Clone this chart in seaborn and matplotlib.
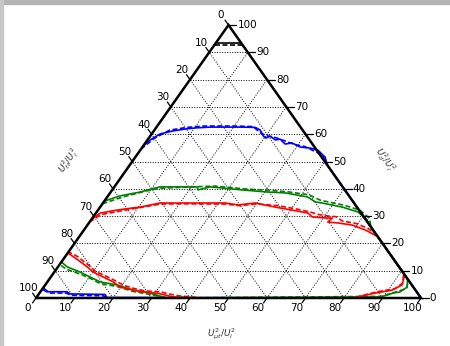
import numpy as np
import pandas as pd
import matplotlib
matplotlib.use("Agg")
import matplotlib.pyplot as plt
import seaborn as sns
from matplotlib.patches import Rectangle

sns.set_style("white")
plt.rcParams['font.family'] = ['DejaVu Sans']
plt.rcParams['text.color'] = 'black'

# ---- data: ternary coordinates (b = U_mu_t^2/U_i^2, r = U_d^2/U_i^2), in % ----
blue_b = [0, 0.7, 2.2, 5.0, 7.8, 10.2, 13.9, 21.7, 25.7, 27.5, 29.4, 30.4, 31.2, 33.2, 34.3,
          36.5, 38.1, 41.0, 43.8, 46.1, 49.3, 51.3, 57.5, 100, 18.3, 17.3, 8.1, 6.9, 2.0, 0]
blue_r = [55.7, 57.9, 60.1, 61.2, 61.9, 62.3, 62.6, 62.6, 62.5, 61.5, 59.3, 58.6, 59.3, 57.9, 58.2,
          56.4, 56.8, 55.3, 54.9, 54.2, 51.6, 48.7, 42.5, 0, 0.2, 1.3, 1.5, 2.3, 2.3, 3.7]
blue_b_d = [0, 1.5, 4, 8, 12, 20, 25, 28, 30, 33, 36, 39, 42, 45, 48, 52, 58, 100,
            19, 17, 8.5, 7, 2.5, 0]
blue_r_d = [54.5, 58.5, 61.5, 62.5, 63, 63, 62.8, 60.5, 59.5, 58.7, 57.5, 56.2, 55.5, 54.0, 52.5, 48, 42, 0,
            0, 0.8, 1.0, 1.8, 1.8, 3.2]

green_b = [0, 3.1, 7.6, 10.8, 11.9, 21.5, 22.3, 24.9, 33.7, 40.9, 45.5, 52.1, 54.9, 56.9, 62.9,
           67.9, 71.7, 72.9, 93.0, 94.4, 93.4, 91.8, 90.7, 89.2, 33.8, 28.7, 23.8, 18.6, 13.7,
           10.2, 6.7, 2.4, 0]
green_r = [35.5, 37.4, 38.8, 40.3, 40.7, 40.7, 39.6, 40.7, 39.6, 38.8, 38.5, 37.0, 35.2, 34.8, 33.3,
           31.5, 28.6, 27.1, 7.0, 4.0, 2.2, 1.8, 1.1, 0.4, 0, 1.8, 2.9, 4.8, 5.9,
           7.7, 9.5, 11.4, 13.2]
green_b_d = [0, 4, 9, 12, 22, 26, 34, 41, 46, 52, 56, 63, 68, 72, 74, 93.5, 94.5, 93, 91, 89.5,
             34.5, 29, 24, 19, 14, 10.5, 7, 2.5, 0]
green_r_d = [34.5, 37.0, 39.2, 40.2, 40.8, 41.0, 40.0, 39.4, 38.9, 37.8, 35.8, 34.0, 32.2, 29.2, 26, 6.5,
             3.5, 2.6, 1.5, 0.6, 0, 1.3, 2.4, 4.2, 5.3, 7.2, 8.8, 10.6, 12.3]

red_b = [0, 1.1, 4.9, 8.7, 10.4, 14.8, 20.8, 31.7, 35.5, 39.5, 45.5, 50.4, 55.1, 56.9, 60.5,
         62.3, 61.9, 64.7, 68.8, 73.1, 77.5, 91.5, 92.7, 91.1, 87.2, 83.4, 82.0, 42.6, 35.4,
         30.5, 26.7, 23.8, 19.8, 17.1, 13.6, 10.1, 7.6, 5.6, 2.8, 0]
red_r = [28.6, 31.1, 32.2, 33.0, 33.3, 34.8, 34.8, 34.8, 34.1, 34.8, 33.3, 32.2, 31.1, 29.7, 29.3,
         29.3, 27.8, 27.5, 26.7, 24.9, 22.5, 8.5, 4.8, 2.9, 1.8, 0.4, 0, 0, 0.4,
         1.8, 2.2, 2.9, 4.0, 5.9, 7.7, 9.5, 11.4, 12.8, 14.7, 16.5]
red_b_d = [0, 1.5, 5, 9, 15, 21, 32, 36, 40, 46, 51, 55.5, 58, 61, 63, 65.5, 69.5, 73.5, 77,
           91, 92.5, 91.5, 87.5, 84, 82.5, 43, 36, 31, 27, 24, 20.5, 17.5, 14, 10.5, 8, 6, 3.2, 0]
red_r_d = [27.8, 30.5, 31.6, 32.7, 34.4, 34.5, 34.4, 33.8, 34.5, 33.8, 32.7, 31.5, 30.6, 30.0, 29.8,
           28.2, 27.3, 25.5, 23, 9, 5.5, 3.4, 2.3, 0.8, 0, 0, 0.9, 2.3, 2.6, 3.4, 4.6, 6.3, 8.1,
           9.8, 11.8, 13.2, 15.2, 16.9]

black_b = [0, 6.7]
black_r = [93.3, 93.3]
black_b_d = [0, 7.2]
black_r_d = [92.8, 92.8]

tick_values = list(range(0, 101, 10))
bottom_label = r"$U_{\mu t}^2/U_i^2$"
left_label = r"$U_{tt}^2/U_i^2$"
right_label = r"$U_{d}^2/U_i^2$"

# ---- build table (cartesian projection: X = b + r/2, Y = r) ----
rows = []
def add(name, kind, bs, rs):
    for b, r in zip(bs, rs):
        rows.append({"X": b + r / 2.0, "Y": r, "series": name, "kind": kind})

add("blue", "solid", blue_b, blue_r)
add("blue", "dashed", blue_b_d, blue_r_d)
add("green", "solid", green_b, green_r)
add("green", "dashed", green_b_d, green_r_d)
add("red", "solid", red_b, red_r)
add("red", "dashed", red_b_d, red_r_d)
add("black", "solid", black_b, black_r)
add("black", "dashed", black_b_d, black_r_d)
df = pd.DataFrame(rows)

fig = plt.figure(figsize=(4.5, 3.46), dpi=100)
fig.patch.set_facecolor("white")
ax = fig.add_axes([0, 0, 1, 1])
ax.set_xlim(-9.35, 107.53)
ax.set_ylim(-17.58, 109.16)
ax.axis("off")

# grid
gls = (0, (1, 1.6))
for k in range(10, 100, 10):
    ax.plot([k / 2, 100 - k / 2], [k, k], ls=gls, color="black", lw=0.7, zorder=1)
    ax.plot([k, k + (100 - k) / 2], [0, 100 - k], ls=gls, color="black", lw=0.7, zorder=1)
    ax.plot([100 - k, (100 - k) / 2], [0, 100 - k], ls=gls, color="black", lw=0.7, zorder=1)

palette = {"blue": "#0000ff", "green": "#008000", "red": "#ff0000", "black": "#000000"}
sns.lineplot(data=df, x="X", y="Y", hue="series", style="kind", palette=palette,
             dashes={"solid": "", "dashed": (3, 1.5)}, sort=False, estimator=None,
             legend=False, lw=1.2, ax=ax, zorder=3)

# triangle edges
ax.plot([0, 100, 50, 0], [0, 0, 100, 0], color="black", lw=1.8, zorder=5,
        solid_joinstyle="miter")

fs = 7.5
for k in tick_values:
    # bottom
    ax.plot([k, k - 0.9], [0, -1.8], color="black", lw=0.9, zorder=5)
    ax.text(k - 2.3, -3.7, str(k), ha="center", va="center", fontsize=fs, color="black")
    # left (value l = k, located at r = 100 - k)
    r = 100 - k
    ax.plot([r / 2, r / 2 - 0.9], [r, r + 1.8], color="black", lw=0.9, zorder=5)
    ax.text(r / 2 - 2.0, r + 3.5, str(k), ha="center", va="center", fontsize=fs, color="black")
    # right (value r = k)
    x = 100 - k / 2
    ax.plot([x, x + 2.0], [k, k], color="black", lw=0.9, zorder=5)
    ax.text(x + 2.3, k, str(k), ha="left", va="center", fontsize=fs, color="black")

ax.text(48.3, -13.2, bottom_label, ha="center", va="center", fontsize=6.5, color="#333333")
ax.text(8.6, 50.5, left_label, ha="center", va="center", fontsize=6.5, color="#333333", rotation=55)
ax.text(90.6, 50.5, right_label, ha="center", va="center", fontsize=6.5, color="#333333", rotation=-55)

# grey window border (top and left)
fig.patches.append(Rectangle((0, 1 - 4 / 346), 1, 4 / 346, transform=fig.transFigure,
                             color="#b4b4b4", zorder=0))
fig.patches.append(Rectangle((0, 0), 3 / 450, 1, transform=fig.transFigure,
                             color="#c8c8c8", zorder=0))

fig.savefig("out.png", dpi=100)
